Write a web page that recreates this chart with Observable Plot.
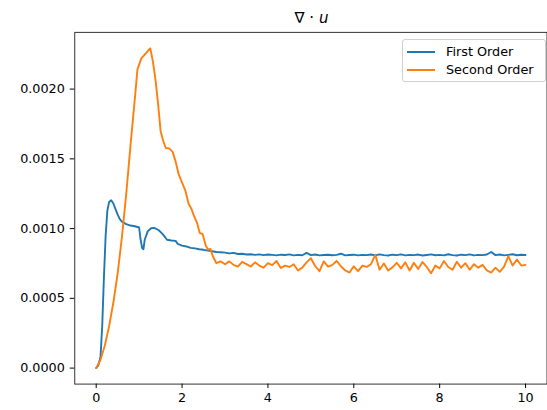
<!DOCTYPE html>
<html>
<head>
<meta charset="utf-8">
<script src="https://cdn.jsdelivr.net/npm/d3@7"></script>
<script src="https://cdn.jsdelivr.net/npm/@observablehq/plot@0.6"></script>
<style>
  html, body { margin: 0; padding: 0; background: #fff; overflow: hidden; }
  #wrap { position: relative; width: 547px; height: 410px; overflow: hidden; font-family: "DejaVu Sans", sans-serif; }
  #title { position: absolute; left: 0; width: 623px; top: 11px; text-align: center; font-size: 15px; line-height: 15px; color: #000; }
  #legend { position: absolute; left: 402px; top: 39px; width: 142px; height: 41px; border: 1px solid #d0d0d0; border-radius: 3px; background: rgba(255,255,255,0.8); font-size: 12.8px; color: #000; }
  .item { position: absolute; left: 0; height: 18px; width: 142px; }
  .swatch { position: absolute; left: 4px; top: 8px; width: 28px; height: 2px; }
  .lab { position: absolute; left: 43px; top: 0; line-height: 18px; white-space: nowrap; }
</style>
</head>
<body>
<div id="wrap">
  <div id="title"></div>
  <div id="legend"></div>
</div>
<script>
// ---- Data ----
const titleText = "∇ · ";
const titleVar = "u";
const seriesNames = ["First Order", "Second Order"];
const seriesColors = ["#1f77b4", "#ff7f0e"];
const xTicks = [0, 2, 4, 6, 8, 10];
const yTicks = [0, 0.0005, 0.001, 0.0015, 0.002];

// time samples of the settled part (shared by both series)
const tTail = [3.0,3.1,3.2,3.3,3.4,3.5,3.6,3.7,3.8,3.9,4.0,4.1,4.2,4.3,4.4,4.5,4.6,4.7,4.8,4.9,
  5.0,5.1,5.2,5.3,5.4,5.5,5.6,5.7,5.8,5.9,6.0,6.1,6.2,6.3,6.4,6.5,6.6,6.7,6.8,6.9,
  7.0,7.1,7.2,7.3,7.4,7.5,7.6,7.7,7.8,7.9,8.0,8.1,8.2,8.3,8.4,8.5,8.6,8.7,8.8,8.9,
  9.0,9.1,9.2,9.3,9.4,9.5,9.6,9.7,9.8,9.9,10.0];

// First Order: early transient
const firstT = [0,0.05,0.1,0.14,0.18,0.22,0.26,0.3,0.35,0.4,0.45,0.5,0.55,0.6,0.7,0.8,0.9,1.0,1.03,1.07,1.1,1.13,1.2,1.28,1.35,1.45,1.55,1.65,1.75,1.85,1.9,2.0,2.1,2.2,2.3,2.4,2.5,2.6,2.7,2.8,2.9];
const firstV = [0,0.00002,0.00008,0.00030,0.00065,0.00095,0.00113,0.00119,0.001203,0.00118,0.00114,0.00110,0.001068,0.00105,0.001032,0.001022,0.001017,0.001008,0.00093,0.00086,0.000852,0.00092,0.00098,0.001003,0.001005,0.00099,0.00096,0.00092,0.000915,0.000912,0.00089,0.000878,0.000872,0.000862,0.000858,0.000852,0.000848,0.000842,0.000838,0.000832,0.000830];
// First Order: settled part (on tTail)
const firstTail = [0.000828,0.000822,0.000826,0.000818,0.000820,0.000814,0.000816,0.000812,0.000815,0.000810,
  0.000814,0.000812,0.000808,0.000813,0.000811,0.000815,0.000808,0.000812,0.000809,0.000826,
  0.000810,0.000814,0.000808,0.000811,0.000813,0.000809,0.000812,0.000820,0.000808,0.000811,
  0.000813,0.000808,0.000812,0.000810,0.000814,0.000808,0.000815,0.000810,0.000807,0.000813,
  0.000810,0.000815,0.000808,0.000812,0.000810,0.000814,0.000807,0.000811,0.000815,0.000809,
  0.000812,0.000808,0.000816,0.000810,0.000807,0.000813,0.000810,0.000815,0.000808,0.000812,
  0.000810,0.000814,0.000832,0.000810,0.000814,0.000808,0.000812,0.000816,0.000809,0.000813,0.000811];

// Second Order: early transient
const secondT = [0,0.1,0.2,0.3,0.4,0.5,0.6,0.7,0.8,0.9,0.96,1.05,1.15,1.22,1.26,1.32,1.38,1.44,1.5,1.56,1.62,1.7,1.78,1.85,1.92,2.0,2.08,2.15,2.22,2.28,2.35,2.41,2.48,2.55,2.6,2.66,2.72,2.8,2.9];
const secondV = [0,0.00006,0.00016,0.0003,0.00047,0.00068,0.00094,0.00125,0.00160,0.00193,0.00214,0.00222,0.002255,0.00228,0.002292,0.00220,0.00207,0.00190,0.00170,0.00163,0.001578,0.001575,0.00155,0.00148,0.00139,0.00133,0.00127,0.00118,0.00114,0.00109,0.00104,0.00097,0.00096,0.00088,0.00085,0.000855,0.00080,0.000752,0.000765];
// Second Order: settled part (on tTail)
const secondTail = [0.000745,0.000765,0.000740,0.000728,0.000762,0.000745,0.000728,0.000758,0.000735,0.000720,
  0.000752,0.000738,0.000768,0.000718,0.000735,0.000725,0.000745,0.000700,0.000720,0.000758,
  0.000788,0.000732,0.000695,0.000765,0.000728,0.000740,0.000768,0.000730,0.000700,0.000685,
  0.000730,0.000695,0.000735,0.000725,0.000745,0.000812,0.000705,0.000750,0.000700,0.000722,
  0.000755,0.000715,0.000758,0.000700,0.000755,0.000710,0.000760,0.000725,0.000680,0.000735,
  0.000715,0.000768,0.000725,0.000705,0.000762,0.000720,0.000752,0.000705,0.000745,0.000720,
  0.000740,0.000700,0.000685,0.000720,0.000690,0.000728,0.000802,0.000735,0.000778,0.000735,0.000740];

// ---- Build table ----
function build(name, t0, v0, tail) {
  const rows = t0.map((t, i) => ({series: name, t, v: v0[i]}));
  tTail.forEach((t, i) => rows.push({series: name, t, v: tail[i]}));
  return rows;
}
const rows = [
  ...build(seriesNames[0], firstT, firstV, firstTail),
  ...build(seriesNames[1], secondT, secondV, secondTail)
];

const chart = Plot.plot({
  width: 549,
  height: 410,
  marginLeft: 74.5,
  marginRight: 0.5,
  marginTop: 32,
  marginBottom: 25,
  style: {fontFamily: "DejaVu Sans, sans-serif", fontSize: "12.8px", color: "#000", background: "transparent", overflow: "visible"},
  x: {domain: [-0.5, 10.5]},
  y: {domain: [-0.0001146, 0.0024066]},
  color: {domain: seriesNames, range: seriesColors},
  marks: [
    Plot.line(rows, {x: "t", y: "v", z: "series", stroke: "series", strokeWidth: 1.9, curve: "linear"}),
    Plot.frame({stroke: "#333", strokeWidth: 1}),
    Plot.axisX({ticks: xTicks, tickFormat: d => String(d), tickSize: 4.5, tickPadding: 4.5, label: null, stroke: "#000"}),
    Plot.axisY({ticks: yTicks, tickFormat: d => d.toFixed(4), tickSize: 4.5, tickPadding: 5.5, label: null, stroke: "#000"})
  ]
});
const wrap = document.getElementById("wrap");
chart.style.position = "absolute";
chart.style.left = "0";
chart.style.top = "0";
wrap.insertBefore(chart, wrap.firstChild);

// Title
const title = document.getElementById("title");
title.appendChild(document.createTextNode(titleText));
const it = document.createElement("i");
it.textContent = titleVar;
title.appendChild(it);

// Legend
const legend = document.getElementById("legend");
seriesNames.forEach((name, i) => {
  const item = document.createElement("div");
  item.className = "item";
  item.style.top = (3 + i * 18.3) + "px";
  const sw = document.createElement("div");
  sw.className = "swatch";
  sw.style.background = seriesColors[i];
  const lab = document.createElement("div");
  lab.className = "lab";
  lab.textContent = name;
  item.appendChild(sw);
  item.appendChild(lab);
  legend.appendChild(item);
});
</script>
</body>
</html>
